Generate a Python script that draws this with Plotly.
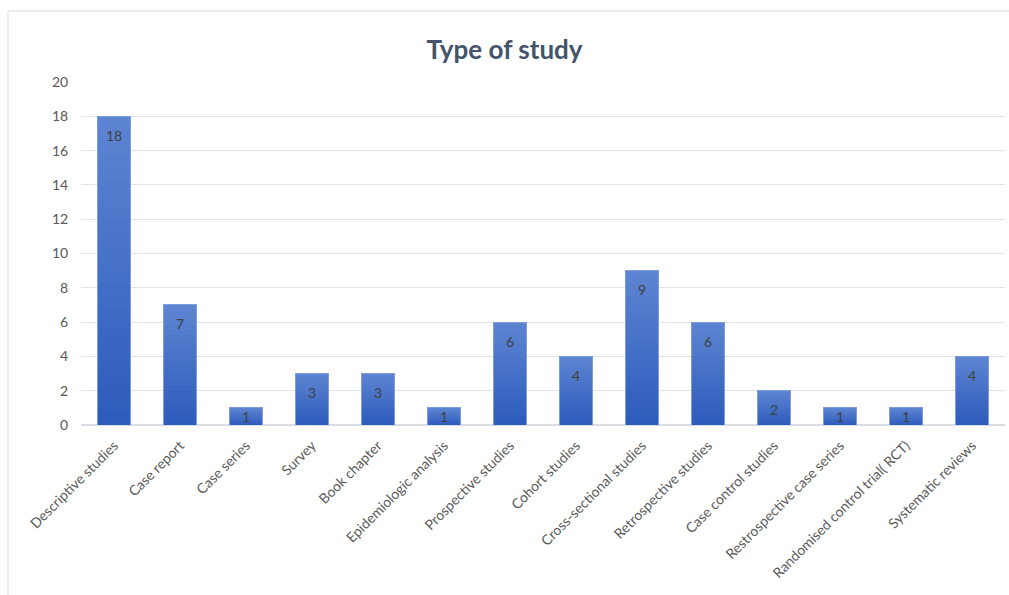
import plotly.graph_objects as go

categories = ["Descriptive studies", "Case report", "Case series", "Survey", "Book chapter",
              "Epidemiologic analysis", "Prospective studies", "Cohort studies",
              "Cross-sectional studies", "Retrospective studies", "Case control studies",
              "Restrospective case series", "Randomised control trial( RCT)", "Systematic reviews"]
counts = [18, 7, 1, 3, 3, 1, 6, 4, 9, 6, 2, 1, 1, 4]
title_text = "Type of study"

# vertical gradient: stack N equal slices of each bar, dark at bottom, light on top
N = 24
bottom_rgb = (46, 92, 188)
top_rgb = (93, 132, 210)

fig = go.Figure()
for k in range(N):
    t = k / (N - 1)
    c = tuple(round(bottom_rgb[i] + (top_rgb[i] - bottom_rgb[i]) * t) for i in range(3))
    fig.add_trace(go.Bar(
        x=categories, y=[v / N for v in counts],
        marker=dict(color="rgb(%d,%d,%d)" % c, line=dict(width=0)),
        hoverinfo="skip", showlegend=False,
    ))

# outline
fig.add_trace(go.Bar(
    x=categories, y=counts, base=[0] * len(counts),
    marker=dict(color="rgba(0,0,0,0)", line=dict(color="#7E9DDC", width=1)),
    showlegend=False, hoverinfo="x+y",
))

# data labels: inside end, centred when the bar is too short
annotations = []
for cat, v in zip(categories, counts):
    if v >= 2:
        annotations.append(dict(x=cat, y=v, yshift=-19, text=str(v), showarrow=False,
                                yanchor="middle", font=dict(size=14, color="#404040", family="Lato")))
    else:
        annotations.append(dict(x=cat, y=v / 2, text=str(v), showarrow=False,
                                yanchor="middle", font=dict(size=14, color="#404040", family="Lato")))

fig.update_layout(
    barmode="stack",
    bargap=0.51,
    width=1009, height=595,
    margin=dict(l=81, r=4, t=82, b=170),
    paper_bgcolor="white", plot_bgcolor="white",
    font=dict(family="Lato", color="#595959", size=14),
    title=dict(text="<b>" + title_text + "</b>", x=0.5, xanchor="center", y=0.916, yanchor="middle",
               font=dict(size=26, color="#44546A", family="Lato")),
    annotations=annotations,
    shapes=[dict(type="rect", xref="paper", yref="paper", x0=-0.079, x1=1.02, y0=-0.6, y1=1.207,
                 line=dict(color="#D9D9D9", width=1), fillcolor="rgba(0,0,0,0)", layer="below")],
)
fig.update_xaxes(tickangle=-45, showgrid=False, showline=False, ticks="outside", ticklen=6,
                 tickcolor="white", tickfont=dict(size=14, color="#595959"))
fig.update_yaxes(range=[0, 20], dtick=2, showgrid=True, gridcolor="#E0E3EA", gridwidth=1,
                 zeroline=True, zerolinecolor="#D9DCE3", showline=False,
                 ticks="outside", ticklen=9, tickcolor="white",
                 tickfont=dict(size=14, color="#595959"))

fig.write_html("out.html")
